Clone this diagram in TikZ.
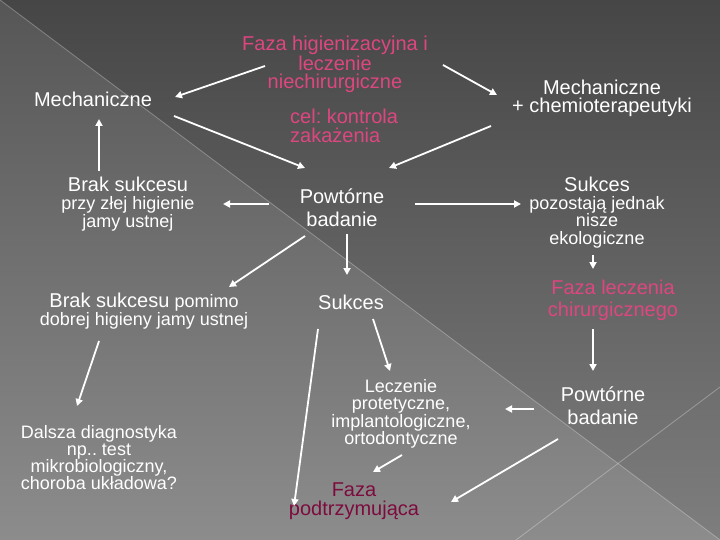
\documentclass[tikz,border=0pt]{standalone}
\usepackage{fontspec}
\setmainfont{Liberation Sans}
\usetikzlibrary{arrows.meta}
\frenchspacing
\definecolor{pinkt}{RGB}{222,70,128}
\definecolor{maroont}{RGB}{125,12,62}
\definecolor{bgTop}{RGB}{86,86,86}
\definecolor{bgBot}{RGB}{140,140,140}
\definecolor{bgTopD}{RGB}{70,70,70}
\definecolor{bgBotD}{RGB}{126,126,126}
\tikzset{
  txt/.style={text=white, align=center, inner sep=0pt},
  big/.style={font=\fontsize{20}{19}\selectfont},
  arr/.style={draw=white, line width=1.8pt, -{Triangle[length=7pt,width=7pt]}},
  deco/.style={draw=white, opacity=0.3, line width=0.8pt}
}
\begin{document}
\begin{tikzpicture}[x=1pt,y=-1pt]
\useasboundingbox (0,0) rectangle (720,540);
% background
\shade[top color=bgTop, bottom color=bgBot] (0,0) rectangle (720,540);
\shade[top color=bgTopD, bottom color=bgBotD] (0,0) -- (720,0) -- (720,540) -- cycle;
\draw[deco] (0,0) -- (720,540);
\draw[deco] (720,387) -- (516,540);

% nodes
\node[txt, text=pinkt, font=\fontsize{20}{18.5}\selectfont] (title) at (335,64.5) {Faza higienizacyjna i\\leczenie\\niechirurgiczne};
\node[txt, text=pinkt, align=left, anchor=west, big] (cel) at (290,125.5) {cel: kontrola\\zakażenia};
\node[txt, big] (mechL) at (93,99) {Mechaniczne};
\node[txt, font=\fontsize{20}{18.5}\selectfont] (mechR) at (602,98.5) {Mechaniczne\\+ chemioterapeutyki};
\node[txt, font=\fontsize{18}{18}\selectfont] (brak1) at (128,204.5) {{\fontsize{20}{18}\selectfont Brak sukcesu}\\przy złej higienie\\jamy ustnej};
\node[txt, font=\fontsize{20}{23}\selectfont] (powt) at (342,207.5) {Powtórne\\badanie};
\node[txt, font=\fontsize{18}{17.5}\selectfont] (sukR) at (597,212.5) {{\fontsize{20}{17.5}\selectfont Sukces}\\pozostają jednak\\nisze\\ekologiczne};
\node[txt, font=\fontsize{18}{18}\selectfont] (brak2) at (144,311) {{\fontsize{20}{18}\selectfont Brak sukcesu} pomimo\\dobrej higieny jamy ustnej};
\node[txt, big] (sukM) at (351,302) {Sukces};
\node[txt, text=pinkt, font=\fontsize{20}{22}\selectfont] (fazaL) at (613,300) {Faza leczenia\\chirurgicznego};
\node[txt, font=\fontsize{18}{17}\selectfont] (dalsza) at (99,457.5) {Dalsza diagnostyka\\np.. test\\mikrobiologiczny,\\choroba układowa?};
\node[txt, font=\fontsize{18}{17.5}\selectfont] (lecz) at (401,414) {Leczenie\\protetyczne,\\implantologiczne,\\ortodontyczne};
\node[txt, font=\fontsize{20}{23}\selectfont] (powtR) at (603,405.5) {Powtórne\\badanie};
\node[txt, text=maroont, font=\fontsize{20}{19}\selectfont] (fazaP) at (354,501.5) {Faza\\podtrzymująca};

% connectors
\draw[arr] ([shift={(-70,1.5)}]title.center) -- ([shift={(82,-2)}]mechL.center);
\draw[arr] ([shift={(108,0.5)}]title.center) -- ([shift={(-105,-3.5)}]mechR.center);
\draw[arr] ([shift={(81,17)}]mechL.center) -- ([shift={(-37,-39.5)}]powt.center);
\draw[arr] ([shift={(-111,27.5)}]mechR.center) -- ([shift={(47,-39.5)}]powt.center);
\draw[arr] ([shift={(-29,-33.5)}]brak1.center) -- ([shift={(6,20)}]mechL.center);
\draw[arr] ([shift={(-73,-3.5)}]powt.center) -- ([shift={(95,-0.5)}]brak1.center);
\draw[arr] ([shift={(73,-3.5)}]powt.center) -- ([shift={(-76,-8.5)}]sukR.center);
\draw[arr] ([shift={(-37,28.5)}]powt.center) -- ([shift={(85,-24)}]brak2.center);
\draw[arr] ([shift={(5,26.5)}]powt.center) -- ([shift={(-4,-27)}]sukM.center);
\draw[arr] ([shift={(-4,42.5)}]sukR.center) -- ([shift={(-20,-31)}]fazaL.center);
\draw[arr] ([shift={(-20,29)}]fazaL.center) -- ([shift={(-10,-34.5)}]powtR.center);
\draw[arr] ([shift={(-45,30)}]brak2.center) -- ([shift={(-22,-51.5)}]dalsza.center);
\draw[arr] ([shift={(-33,27)}]sukM.center) -- ([shift={(-60,4.5)}]fazaP.center);
\draw[arr] ([shift={(22,17)}]sukM.center) -- ([shift={(-11,-43)}]lecz.center);
\draw[arr] ([shift={(-69,3.5)}]powtR.center) -- ([shift={(104,-5)}]lecz.center);
\draw[arr] ([shift={(1,41)}]lecz.center) -- ([shift={(19,-29.5)}]fazaP.center);
\draw[arr] ([shift={(-45,33.5)}]powtR.center) -- ([shift={(97,0.5)}]fazaP.center);
\end{tikzpicture}
\end{document}
